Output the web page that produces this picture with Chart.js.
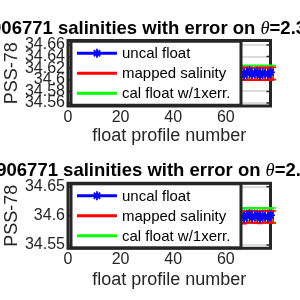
<!DOCTYPE html>
<html>
<head>
<meta charset="utf-8">
<script src="https://cdn.jsdelivr.net/npm/chart.js@4.4.1/dist/chart.umd.min.js"></script>
<style>
  body { margin: 0; background: #fff; overflow: hidden; }
  .panel { position: relative; width: 300px; height: 150px; }
</style>
</head>
<body>
<div class="panel"><canvas id="chartTop"></canvas></div>
<div class="panel"><canvas id="chartBottom"></canvas></div>
<script>
// profiles visible to the right of the legend (the rest is hidden behind it)
const profiles = [63, 64, 65, 66, 67, 68, 69, 70, 71, 72, 73, 74, 75, 76, 77, 78];
const xTicks = [0, 20, 40, 60];
const seriesNames = ["uncal float", "mapped salinity", "cal float w/1xerr."];

// upper panel
const uncalTop = [34.612, 34.609, 34.614, 34.611, 34.608, 34.613, 34.615, 34.609, 34.611, 34.614, 34.608, 34.612, 34.611, 34.609, 34.613, 34.611];
const mappedTop = [34.611, 34.610, 34.611, 34.610, 34.611, 34.610, 34.611, 34.610, 34.610, 34.611, 34.610, 34.611, 34.610, 34.611, 34.610, 34.611];
const mappedErrTop = [0.0106, 0.0107, 0.0106, 0.0108, 0.0106, 0.0107, 0.0106, 0.0107, 0.0108, 0.0106, 0.0107, 0.0106, 0.0107, 0.0106, 0.0108, 0.0106];
const calTop = [34.6125, 34.6123, 34.6126, 34.6124, 34.6122, 34.6125, 34.6127, 34.6123, 34.6124, 34.6126, 34.6122, 34.6125, 34.6124, 34.6123, 34.6125, 34.6124];
const calErrTop = [0.0122, 0.0122, 0.0121, 0.0122, 0.0123, 0.0122, 0.0121, 0.0122, 0.0122, 0.0121, 0.0123, 0.0122, 0.0122, 0.0122, 0.0121, 0.0122];
const yTicksTop = [34.56, 34.58, 34.6, 34.62, 34.64, 34.66];
const yLabelsTop = ["34.56", "34.58", "34.6", "34.62", "34.64", "34.66"];

// lower panel
const uncalBottom = [34.599, 34.602, 34.597, 34.600, 34.596, 34.601, 34.603, 34.597, 34.599, 34.602, 34.596, 34.600, 34.599, 34.597, 34.601, 34.599];
const mappedBottom = [34.598, 34.598, 34.599, 34.598, 34.597, 34.598, 34.599, 34.598, 34.598, 34.598, 34.597, 34.598, 34.599, 34.598, 34.598, 34.598];
const mappedErrBottom = [0.0103, 0.0103, 0.0102, 0.0103, 0.0104, 0.0103, 0.0102, 0.0103, 0.0103, 0.0104, 0.0103, 0.0103, 0.0102, 0.0103, 0.0103, 0.0103];
const calBottom = [34.601, 34.6012, 34.6009, 34.601, 34.6011, 34.601, 34.6012, 34.6009, 34.601, 34.6011, 34.6009, 34.601, 34.6012, 34.601, 34.6009, 34.601];
const calErrBottom = [0.0126, 0.0126, 0.0125, 0.0126, 0.0126, 0.0127, 0.0126, 0.0126, 0.0125, 0.0126, 0.0126, 0.0126, 0.0127, 0.0126, 0.0126, 0.0126];
const yTicksBottom = [34.55, 34.6, 34.65];
const yLabelsBottom = ["34.55", "34.6", "34.65"];

const FAM = "'Liberation Sans', Arial, sans-serif";
const INK = "#262626";

function pts(ys) {
  return profiles.map((p, i) => ({ x: p, y: ys[i] }));
}

// vertical error bars, drawn right after their own dataset
const errorBars = {
  id: "errorBars",
  afterDatasetDraw(chart, args) {
    const ds = chart.data.datasets[args.index];
    if (!ds.errors) return;
    const ctx = chart.ctx;
    const yScale = chart.scales.y;
    ctx.save();
    ctx.strokeStyle = ds.borderColor;
    ctx.lineWidth = 1.5;
    args.meta.data.forEach((el, i) => {
      const v = ds.data[i].y;
      const e = ds.errors[i];
      const y1 = yScale.getPixelForValue(v + e);
      const y2 = yScale.getPixelForValue(v - e);
      ctx.beginPath();
      ctx.moveTo(el.x, y1); ctx.lineTo(el.x, y2);
      ctx.moveTo(el.x - 3, y1); ctx.lineTo(el.x + 3, y1);
      ctx.moveTo(el.x - 3, y2); ctx.lineTo(el.x + 3, y2);
      ctx.stroke();
    });
    ctx.restore();
  }
};

// matlab style box with inner tick marks
const axesBox = {
  id: "axesBox",
  beforeDatasetsDraw(chart) {
    const { ctx, chartArea: a } = chart;
    ctx.save();
    ctx.strokeStyle = INK;
    ctx.lineWidth = 1.5;
    chart.scales.y.ticks.forEach((t) => {
      const y = chart.scales.y.getPixelForValue(t.value);
      ctx.beginPath();
      ctx.moveTo(a.right, y); ctx.lineTo(a.right - 4, y);
      ctx.moveTo(a.left, y); ctx.lineTo(a.left + 4, y);
      ctx.stroke();
    });
    ctx.lineWidth = 3;
    ctx.strokeRect(a.left, a.top, a.right - a.left, a.bottom - a.top);
    ctx.restore();
  }
};

// legend box that sits inside the axes, as in the original figure
const boxLegend = {
  id: "boxLegend",
  afterDraw(chart) {
    const { ctx, chartArea: a } = chart;
    const h = 64;
    const top = (a.top + a.bottom) / 2 - h / 2;
    const left = a.left + 3;
    const w = 170;
    ctx.save();
    ctx.fillStyle = "#fff";
    ctx.fillRect(left, top, w, h);
    ctx.strokeStyle = INK;
    ctx.lineWidth = 3;
    ctx.strokeRect(left, top, w, h);
    chart.data.datasets.forEach((ds, i) => {
      const y = top + 12 + i * 20;
      ctx.strokeStyle = ds.borderColor;
      ctx.lineWidth = 3;
      ctx.beginPath();
      ctx.moveTo(left + 6, y); ctx.lineTo(left + 46, y);
      ctx.stroke();
      if (ds.pointStyle === "star") {
        ctx.lineWidth = 1.8;
        Chart.helpers.drawPoint(ctx, { pointStyle: "star", radius: 4.5, borderWidth: 1.8 }, left + 26, y);
      }
      ctx.fillStyle = "#000";
      ctx.font = "15px " + FAM;
      ctx.textBaseline = "middle";
      ctx.fillText(ds.label, left + 51, y + 1);
    });
    ctx.restore();
  }
};

// title with an italic theta
const matTitle = {
  id: "matTitle",
  afterDraw(chart, args, opts) {
    const ctx = chart.ctx;
    const a = chart.chartArea;
    const parts = [
      { t: opts.before, f: "bold 18.5px " + FAM },
      { t: "\u03b8", f: "italic 18.5px 'Liberation Serif', serif" },
      { t: opts.after, f: "bold 18.5px " + FAM }
    ];
    let total = 0;
    parts.forEach((p) => { ctx.font = p.f; p.w = ctx.measureText(p.t).width; total += p.w; });
    let x = (a.left + a.right) / 2 - total / 2;
    ctx.save();
    ctx.fillStyle = "#000";
    ctx.textBaseline = "alphabetic";
    parts.forEach((p) => { ctx.font = p.f; ctx.fillText(p.t, x, opts.y); x += p.w; });
    ctx.restore();
  }
};

function makeChart(id, c) {
  return new Chart(document.getElementById(id), {
    type: "line",
    data: {
      datasets: [
        { label: seriesNames[0], data: pts(c.uncal), borderColor: "#0000ff", backgroundColor: "#0000ff",
          borderWidth: 2, pointStyle: "star", pointRadius: 4.5, pointBorderWidth: 1.6, clip: false },
        { label: seriesNames[1], data: pts(c.mapped), errors: c.mappedErr, borderColor: "#ff0000",
          borderWidth: 2, pointRadius: 0, clip: false },
        { label: seriesNames[2], data: pts(c.cal), errors: c.calErr, borderColor: "#00ff00",
          borderWidth: 2, pointRadius: 0, clip: false }
      ]
    },
    options: {
      responsive: true,
      maintainAspectRatio: false,
      animation: false,
      events: [],
      layout: { padding: { top: c.padTop, right: 29.5, left: 0, bottom: 0 } },
      plugins: {
        legend: { display: false },
        tooltip: { enabled: false },
        matTitle: { before: c.titleBefore, after: c.titleAfter, y: c.titleY }
      },
      scales: {
        x: {
          type: "linear", min: 0, max: 77,
          afterFit: (s) => { s.height = c.xHeight; },
          afterBuildTicks: (s) => { s.ticks = xTicks.map((v) => ({ value: v })); },
          grid: { display: false, drawTicks: false },
          border: { display: false },
          ticks: { color: INK, font: { family: FAM, size: 16 }, padding: 2, maxRotation: 0, autoSkip: false },
          title: { display: true, text: "float profile number", color: INK,
            font: { family: FAM, size: 18 }, padding: { top: 0, bottom: c.xTitlePad } }
        },
        y: {
          min: c.yMin, max: c.yMax,
          afterFit: (s) => { s.width = 68; },
          afterBuildTicks: (s) => { s.ticks = c.yTicks.map((v) => ({ value: v })); },
          grid: { color: "#dcdcdc", lineWidth: 2, drawTicks: false },
          border: { display: false },
          ticks: { color: INK, font: { family: FAM, size: 16 }, padding: 3, autoSkip: false,
            callback: (v, i) => c.yLabels[i] },
          title: { display: true, text: "PSS-78", color: INK,
            font: { family: FAM, size: 18 }, padding: { top: 1, bottom: 0 } }
        }
      }
    },
    plugins: [axesBox, errorBars, boxLegend, matTitle]
  });
}

makeChart("chartTop", {
  uncal: uncalTop, mapped: mappedTop, mappedErr: mappedErrTop, cal: calTop, calErr: calErrTop,
  yMin: 34.5548, yMax: 34.6678, yTicks: yTicksTop, yLabels: yLabelsTop,
  padTop: 40.5, xHeight: 44, xTitlePad: 3.6, titleY: 33.5,
  titleBefore: "3906771 salinities with error on ", titleAfter: "=2.3456\u00b0C"
});

makeChart("chartBottom", {
  uncal: uncalBottom, mapped: mappedBottom, mappedErr: mappedErrBottom, cal: calBottom, calErr: calErrBottom,
  yMin: 34.5443, yMax: 34.6558, yTicks: yTicksBottom, yLabels: yLabelsBottom,
  padTop: 33.3, xHeight: 51.7, xTitlePad: 9.6, titleY: 26,
  titleBefore: "3906771 salinities with error on ", titleAfter: "=2.189\u00b0C"
});
</script>
</body>
</html>
